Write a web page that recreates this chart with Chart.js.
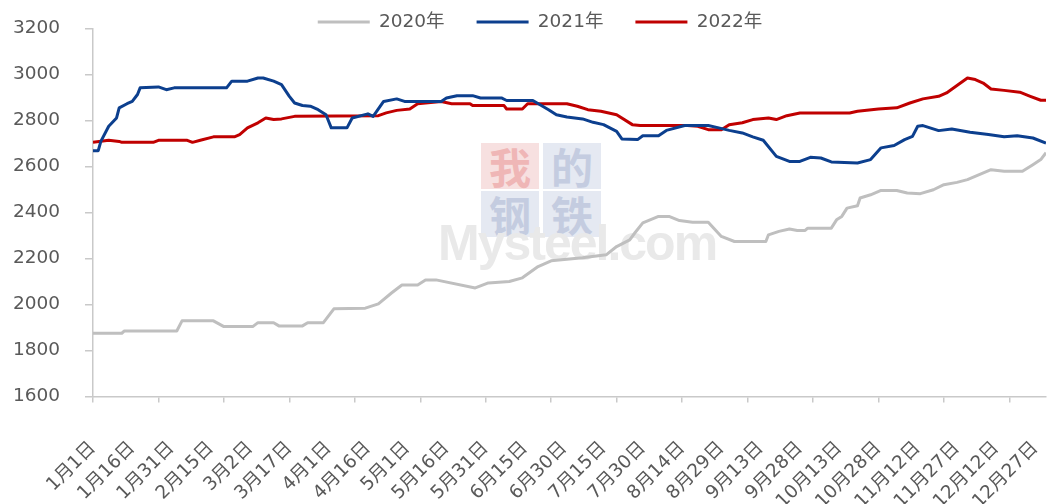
<!DOCTYPE html>
<html lang="zh-CN">
<head>
<meta charset="UTF-8">
<title>2020-2022年价格走势</title>
<script src="https://cdn.jsdelivr.net/npm/chart.js"></script>
<style>
  html, body { margin: 0; padding: 0; background: #fff; }
  .wrap { position: relative; width: 1048px; height: 504px; }
  .wrap canvas { position: absolute; left: 0; top: 0; }
  /* 水印 */
  .mark { position: absolute; left: 481px; top: 143px; width: 124px; }
  .mark span {
    float: left; width: 58px; height: 46px; margin: 0 4px 2px 0;
    font: 700 42px/46px "Noto Sans CJK SC", sans-serif; text-align: center;
  }
  .mark .red { background: #f7e0e0; color: #efb6b6; }
  .mark .blue { background: #e5e9f2; color: #c4cce0; }
  .site {
    position: absolute; left: 438px; top: 218px;
    font: 700 50px/1 "Liberation Sans", Arial, sans-serif;
    color: #e9e9e9; letter-spacing: -2px;
  }
</style>
</head>
<body>
<div class="wrap">
  <div class="mark"><span class="red">我</span><span class="blue">的</span><span class="blue">钢</span><span class="blue">铁</span></div>
  <div class="site">Mysteel.com</div>
  <canvas id="chart" width="1048" height="504"></canvas>
</div>

<script>
  // x 轴标签（每15天一个）
  const tickLabels = ['1月1日', '1月16日', '1月31日', '2月15日', '3月2日', '3月17日', '4月1日', '4月16日',
    '5月1日', '5月16日', '5月31日', '6月15日', '6月30日', '7月15日', '7月30日', '8月14日', '8月29日',
    '9月13日', '9月28日', '10月13日', '10月28日', '11月12日', '11月27日', '12月12日', '12月27日'];
  const seriesNames = ['2020年', '2021年', '2022年'];

  // 每个序列：第几天 (1月1日 = 0) 和 价格
  const days2020 = [0, 11, 12, 32, 34, 46, 50, 61, 63, 69, 71, 80, 82, 88, 92, 104, 109, 114, 118, 124,
    127, 131, 146, 151, 159, 164, 170, 175, 187, 196, 200, 205, 207, 210, 216, 220, 224, 229, 235, 240,
    245, 257, 258, 262, 266, 269, 272, 273, 282, 284, 286, 288, 292, 293, 297, 301, 307, 311, 316, 321,
    325, 330, 334, 343, 348, 355, 359, 362, 364];
  const price2020 = [1875, 1875, 1885, 1885, 1929, 1929, 1904, 1904, 1921, 1921, 1907, 1907, 1921, 1921, 1981, 1984, 2003, 2050, 2085, 2085,
    2107, 2107, 2072, 2094, 2100, 2116, 2165, 2190, 2203, 2216, 2252, 2281, 2312, 2355, 2383, 2383, 2365, 2358, 2358, 2296,
    2274, 2274, 2303, 2318, 2328, 2322, 2322, 2332, 2332, 2368, 2383, 2419, 2429, 2463, 2477, 2496, 2496, 2485, 2482, 2499,
    2521, 2531, 2543, 2586, 2579, 2579, 2608, 2630, 2660];

  const days2021 = [0, 2, 3, 6, 9, 10, 13, 15, 17, 18, 25, 28, 31, 51, 53, 59, 63, 65, 69, 72,
    75, 77, 80, 83, 86, 89, 91, 97, 99, 105, 107, 111, 116, 119, 133, 135, 139, 145, 148, 156,
    158, 168, 174, 177, 181, 187, 191, 195, 200, 202, 208, 210, 216, 219, 226, 235, 239, 243, 248, 252,
    256, 261, 266, 270, 274, 278, 282, 292, 297, 301, 306, 310, 313, 315, 317, 323, 328, 335, 342, 348,
    353, 359, 364];
  const price2021 = [2669, 2669, 2709, 2775, 2811, 2855, 2873, 2883, 2913, 2942, 2946, 2934, 2942, 2942, 2971, 2971, 2985, 2985, 2971, 2956,
    2905, 2876, 2865, 2862, 2847, 2825, 2768, 2768, 2811, 2829, 2818, 2883, 2894, 2883, 2883, 2898, 2908, 2908, 2898, 2898,
    2887, 2887, 2847, 2825, 2815, 2807, 2792, 2782, 2753, 2720, 2717, 2734, 2734, 2757, 2778, 2778, 2768, 2757, 2746, 2729,
    2714, 2644, 2622, 2622, 2640, 2637, 2620, 2615, 2630, 2681, 2691, 2717, 2731, 2775, 2778, 2756, 2763, 2749, 2739, 2729,
    2734, 2724, 2702];

  const days2022 = [0, 6, 10, 11, 23, 25, 36, 38, 41, 46, 54, 56, 59, 63, 66, 69, 72, 77, 109, 112,
    116, 121, 124, 133, 137, 144, 145, 157, 158, 164, 166, 181, 185, 189, 194, 200, 206, 209, 227, 231,
    235, 240, 243, 248, 252, 258, 261, 265, 270, 289, 292, 300, 307, 312, 317, 323, 326, 330, 334, 337,
    340, 343, 348, 354, 358, 362, 364];
  const price2022 = [2705, 2714, 2709, 2705, 2705, 2714, 2714, 2705, 2714, 2729, 2729, 2739, 2768, 2790, 2811, 2804, 2807, 2818, 2821, 2833,
    2844, 2850, 2873, 2883, 2873, 2873, 2865, 2865, 2850, 2850, 2873, 2873, 2862, 2847, 2840, 2825, 2782, 2778, 2778, 2775,
    2760, 2760, 2782, 2790, 2804, 2811, 2804, 2821, 2833, 2833, 2840, 2850, 2855, 2876, 2894, 2905, 2920, 2952, 2985, 2978,
    2963, 2937, 2931, 2923, 2905, 2888, 2888];

  const colors = ['#bfbfbf', '#0c3f8e', '#c00000'];
  const axisColor = '#c9c9c9';
  const textColor = '#595959';
  const font = { family: '"DejaVu Sans", "Noto Sans CJK SC", sans-serif', size: 18.5 };

  const toPoints = (days, prices) => days.map((d, i) => ({ x: d, y: prices[i] }));

  // 图例放到和原图一致的位置（文字中线约在 y=22）
  const legendOffset = {
    id: 'legendOffset',
    afterLayout(chart) {
      const lg = chart.legend;
      lg.top = -19.25;
      lg.bottom = 40;
      lg.left += 17; lg.right += 17;
    }
  };

  const makeSet = (i, days, prices) => ({
    label: seriesNames[i],
    data: toPoints(days, prices),
    borderColor: colors[i],
    backgroundColor: colors[i],
    borderWidth: 3
  });

  new Chart(document.getElementById('chart'), {
    type: 'line',
    data: {
      datasets: [
        makeSet(0, days2020, price2020),
        makeSet(1, days2021, price2021),
        makeSet(2, days2022, price2022)
      ]
    },
    options: {
      responsive: false,
      animation: false,
      layout: { padding: { left: 0, right: 2, top: 0, bottom: 0 } },
      elements: {
        point: { radius: 0 },
        line: { tension: 0, borderJoinStyle: 'round', borderCapStyle: 'butt' }
      },
      plugins: {
        legend: {
          position: 'top',
          maxHeight: 28.5,
          labels: {
            usePointStyle: true,
            pointStyle: 'line',
            pointStyleWidth: 52,
            padding: 32,
            color: textColor,
            font: font
          }
        },
        tooltip: { enabled: false }
      },
      scales: {
        x: {
          type: 'linear', min: 0, max: 364, position: 'bottom', weight: 1,
          border: { display: false },
          grid: { display: false, drawTicks: false },
          ticks: {
            stepSize: 15, includeBounds: false, autoSkip: false,
            minRotation: 45, maxRotation: 45, padding: 35,
            color: textColor, font: font,
            callback: v => tickLabels[v / 15] ?? ''
          },
          afterFit: s => { s.height = 101.5; s.paddingLeft = 0; s.paddingRight = 0; }
        },
        // 只画刻度线的轴
        x2: {
          type: 'linear', min: 0, max: 364, position: 'bottom', weight: 0,
          border: { color: axisColor, width: 1.5 },
          grid: { drawOnChartArea: false, color: axisColor, lineWidth: 1.5, tickLength: 6 },
          ticks: { display: false, stepSize: 25, includeBounds: false },
          afterFit: s => { s.paddingLeft = 0; s.paddingRight = 0; }
        },
        y: {
          min: 1600, max: 3200,
          border: { color: axisColor, width: 1.5 },
          grid: { drawOnChartArea: false, color: axisColor, lineWidth: 1.5, tickLength: 8 },
          ticks: { stepSize: 200, padding: 25, color: textColor, font: font, callback: v => String(v) },
          afterFit: s => { s.width = 93; s.paddingTop = 0; s.paddingBottom = 0; }
        }
      }
    },
    plugins: [legendOffset]
  });
</script>
</body>
</html>
